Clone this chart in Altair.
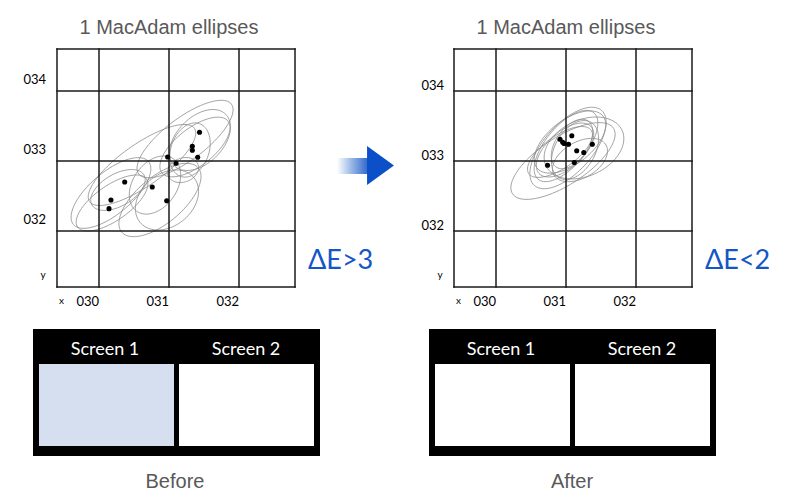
import numpy as np
import pandas as pd
import altair as alt

# ---------------- data ----------------
x_ticks = [0.30, 0.31, 0.32]
x_tick_labels = ["030", "031", "032"]
y_ticks = [0.32, 0.33, 0.34]
y_tick_labels = ["032", "033", "034"]
x_extent = [0.294, 0.328]
y_extent = [0.312, 0.346]

panel_title = "1 MacAdam ellipses"
delta_before = "ΔE>3"
delta_after = "ΔE<2"
screen_labels = ["Screen 1", "Screen 2"]
captions = ["Before", "After"]

# chromaticity points (x, y)
before_x = [0.31436, 0.31333, 0.31333, 0.31410, 0.30981, 0.31100, 0.30367, 0.30761, 0.30171, 0.30143, 0.30967]
before_y = [0.33410, 0.33210, 0.33153, 0.33053, 0.33057, 0.32967, 0.32700, 0.32629, 0.32443, 0.32319, 0.32433]
after_x = [0.30914, 0.30953, 0.30974, 0.31036, 0.31083, 0.31153, 0.31254, 0.31376, 0.31119, 0.30736]
after_y = [0.33310, 0.33267, 0.33249, 0.33240, 0.33360, 0.33147, 0.33121, 0.33239, 0.32979, 0.32939]

# ellipses: centre, semi-axes (chromaticity units), tilt (degrees)
before_ecx = [0.31229, 0.31371, 0.31300, 0.31200, 0.31443, 0.30871, 0.30971, 0.30171, 0.30186, 0.30271, 0.30614, 0.30800]
before_ecy = [0.33314, 0.33200, 0.33157, 0.32871, 0.33300, 0.32443, 0.32443, 0.32543, 0.32400, 0.32586, 0.32943, 0.32657]
before_ea = [0.00829, 0.00600, 0.00400, 0.00229, 0.00520, 0.00714, 0.00500, 0.00700, 0.00600, 0.00429, 0.00914, 0.00457]
before_eb = [0.00300, 0.00270, 0.00271, 0.00171, 0.00330, 0.00330, 0.00371, 0.00300, 0.00250, 0.00229, 0.00300, 0.00314]
before_eang = [37, 38, 70, 20, 45, 40, 40, 40, 35, 30, 35, 55]

after_ecx = [0.30957, 0.31257, 0.31029, 0.31000, 0.31057, 0.30986, 0.31129, 0.30914, 0.31086, 0.31200]
after_ecy = [0.33000, 0.33186, 0.33186, 0.33214, 0.33271, 0.33157, 0.33157, 0.33129, 0.33243, 0.33014]
after_ea = [0.00860, 0.00600, 0.00720, 0.00620, 0.00600, 0.00500, 0.00457, 0.00543, 0.00400, 0.00429]
after_eb = [0.00340, 0.00400, 0.00343, 0.00286, 0.00314, 0.00257, 0.00286, 0.00229, 0.00229, 0.00257]
after_eang = [33, 25, 48, 50, 38, 42, 60, 35, 55, 30]


def ellipse_table(cx, cy, a, b, ang, n=90):
    rows = []
    t = np.linspace(0, 2 * np.pi, n + 1)
    for i, (x0, y0, aa, bb, th) in enumerate(zip(cx, cy, a, b, ang)):
        r = np.radians(th)
        xs = x0 + aa * np.cos(t) * np.cos(r) - bb * np.sin(t) * np.sin(r)
        ys = y0 + aa * np.cos(t) * np.sin(r) + bb * np.sin(t) * np.cos(r)
        for k in range(n + 1):
            rows.append({"id": i, "k": k, "x": xs[k], "y": ys[k]})
    return pd.DataFrame(rows)


GRAY = "#595959"
BLUE = "#1456c6"
LABEL_FONT = "Lato"
TITLE_FONT = "Liberation Sans"


def panel(x0, ylab_dx, ylab_dy, px, py, ecx, ecy, ea, eb, eang, delta):
    xs = alt.Scale(domain=[x_ticks[0], x_ticks[-1]], range=[x0, x0 + 140], nice=False, zero=False)
    ys = alt.Scale(domain=[y_ticks[0], y_ticks[-1]], range=[223, 83], nice=False, zero=False)

    def X(f):
        return alt.X(f, type="quantitative", scale=xs, axis=None)

    def Y(f):
        return alt.Y(f, type="quantitative", scale=ys, axis=None)

    layers = []
    vlines = pd.DataFrame({"x": [x_extent[0]] + x_ticks + [x_extent[1]],
                           "y0": y_extent[0], "y1": y_extent[1]})
    hlines = pd.DataFrame({"y": [y_extent[0]] + y_ticks + [y_extent[1]],
                           "x0": x_extent[0], "x1": x_extent[1]})
    ell = ellipse_table(ecx, ecy, ea, eb, eang)
    layers.append(alt.Chart(ell).mark_line(stroke="#8c8c8c", strokeWidth=0.8).encode(
        x=X("x"), y=Y("y"), detail="id:N", order="k:Q"))
    layers.append(alt.Chart(vlines).mark_rule(color="#1a1a1a", strokeWidth=1.5, strokeCap="square").encode(
        x=X("x"), y=Y("y0"), y2="y1"))
    layers.append(alt.Chart(hlines).mark_rule(color="#1a1a1a", strokeWidth=1.5, strokeCap="square").encode(
        y=Y("y"), x=X("x0"), x2="x1"))
    pts = pd.DataFrame({"x": px, "y": py})
    layers.append(alt.Chart(pts).mark_circle(size=26, color="black", opacity=1).encode(
        x=X("x"), y=Y("y")))
    ylab = pd.DataFrame({"y": y_ticks, "t": y_tick_labels, "x": x_extent[0]})
    layers.append(alt.Chart(ylab).mark_text(align="right", baseline="middle", dx=ylab_dx, dy=ylab_dy,
                                            fontSize=13, font=LABEL_FONT, color="black").encode(
        x=X("x"), y=Y("y"), text="t:N"))
    xlab = pd.DataFrame({"x": x_ticks, "t": x_tick_labels, "y": y_extent[0]})
    layers.append(alt.Chart(xlab).mark_text(align="right", baseline="middle", dy=15,
                                            fontSize=13, font=LABEL_FONT, color="black").encode(
        x=X("x"), y=Y("y"), text="t:N"))
    corner = pd.DataFrame({"x": [x_extent[0]], "y": [y_extent[0]], "tx": ["x"], "ty": ["y"]})
    layers.append(alt.Chart(corner).mark_text(align="left", baseline="middle", dx=2, dy=14,
                                              fontSize=10, font=LABEL_FONT, color="black").encode(
        x=X("x"), y=Y("y"), text="tx:N"))
    layers.append(alt.Chart(corner).mark_text(align="center", baseline="middle", dx=-14, dy=-12,
                                              fontSize=10, font=LABEL_FONT, color="black").encode(
        x=X("x"), y=Y("y"), text="ty:N"))
    ttl = pd.DataFrame({"x": [(x_extent[0] + x_extent[1]) / 2], "y": [y_extent[1]], "t": [panel_title]})
    layers.append(alt.Chart(ttl).mark_text(align="center", baseline="middle", dx=-7, dy=-21,
                                           fontSize=20, font=TITLE_FONT, color=GRAY).encode(
        x=X("x"), y=Y("y"), text="t:N"))
    dl = pd.DataFrame({"x": [x_extent[1]], "y": [y_extent[0]], "t": [delta]})
    layers.append(alt.Chart(dl).mark_text(align="left", baseline="alphabetic", dx=13, dy=-18,
                                          fontSize=27, font=LABEL_FONT, color=BLUE).encode(
        x=X("x"), y=Y("y"), text="t:N"))
    return layers


one = pd.DataFrame({"k": [0]})


def rect(x1, x2, y1, y2, **kw):
    return alt.Chart(one).mark_rect(**kw).encode(
        x=alt.value(x1), x2=alt.value(x2), y=alt.value(y1), y2=alt.value(y2))


def label(txt, x, y, **kw):
    return alt.Chart(pd.DataFrame({"t": [txt]})).mark_text(**kw).encode(
        x=alt.value(x), y=alt.value(y), text="t:N")


layers = []
layers += panel(91, -11, -11, before_x, before_y, before_ecx, before_ecy, before_ea, before_eb, before_eang, delta_before)
layers += panel(488, -10, -5, after_x, after_y, after_ecx, after_ecy, after_ea, after_eb, after_eang, delta_after)

# arrow
grad = alt.Gradient(gradient="linear",
                    stops=[alt.GradientStop(color="#ffffff", offset=0),
                           alt.GradientStop(color="#8fb0e4", offset=0.5),
                           alt.GradientStop(color="#2a62c9", offset=1)],
                    x1=0, x2=1, y1=0, y2=0)
layers.append(rect(329, 361, 150, 166, color=grad))
layers.append(alt.Chart(one).mark_point(shape="M -0.69,-1 L 0.69,0 L -0.69,1 Z", filled=True,
                                        size=1521, color="#0b50c8", opacity=1, strokeWidth=0).encode(
    x=alt.value(372.5), y=alt.value(157.5)))

# screens
for bx, fill1 in [(25, "#d6dff0"), (421, "white")]:
    layers.append(rect(bx, bx + 287, 321, 448, color="black"))
    layers.append(rect(bx + 6, bx + 141, 356, 438, color=fill1))
    layers.append(rect(bx + 146, bx + 281, 356, 438, color="white"))
    layers.append(label(screen_labels[0], bx + 72, 342, fontSize=18, font=LABEL_FONT, color="white",
                        align="center", baseline="middle"))
    layers.append(label(screen_labels[1], bx + 213, 342, fontSize=18, font=LABEL_FONT, color="white",
                        align="center", baseline="middle"))

layers.append(label(captions[0], 167, 474, fontSize=20, font=TITLE_FONT, color=GRAY,
                    align="center", baseline="middle"))
layers.append(label(captions[1], 564, 474, fontSize=20, font=TITLE_FONT, color=GRAY,
                    align="center", baseline="middle"))

chart = alt.layer(*layers).resolve_scale(x="independent", y="independent").properties(
    width=784, height=484, padding=0
).configure_view(stroke=None)

chart.save("out.html", embed_options={"renderer": "svg", "actions": False})
